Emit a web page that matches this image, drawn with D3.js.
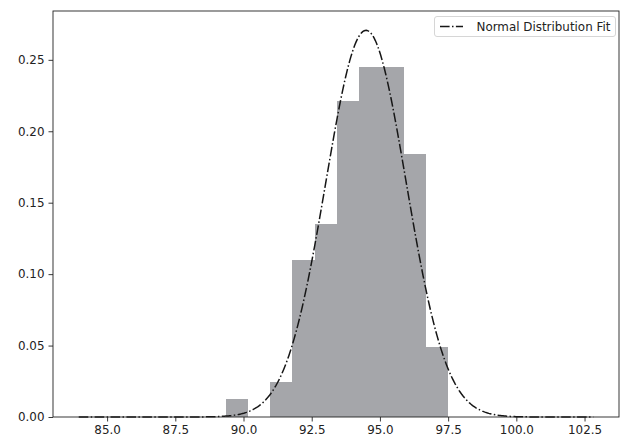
<!DOCTYPE html>
<html>
<head>
<meta charset="utf-8">
<script src="https://cdn.jsdelivr.net/npm/d3@7"></script>
<style>
  html, body { margin: 0; padding: 0; background: #fff; }
  svg { display: block; font-family: "DejaVu Sans", sans-serif; }
</style>
</head>
<body>
<svg id="chart" width="624" height="437"></svg>
<script>
// ---- data ----
const binEdges = [89.35, 90.165, 90.98, 91.795, 92.61, 93.425, 94.24, 95.055, 95.87, 96.685, 97.50];
const binDensity = [0.0123, 0, 0.0245, 0.110, 0.135, 0.221, 0.245, 0.245, 0.184, 0.049];
const fitMean = 94.49;
const fitStd = 1.474;
const curveRange = [83.96, 102.82];
const xTickValues = [85.0, 87.5, 90.0, 92.5, 95.0, 97.5, 100.0, 102.5];
const yTickValues = [0.00, 0.05, 0.10, 0.15, 0.20, 0.25];
const legendLabel = "Normal Distribution Fit";

// ---- layout ----
const svg = d3.select("#chart");
const mLeft = 53, mRight = 619, mTop = 11, mBottom = 417;

const span = curveRange[1] - curveRange[0];
const x = d3.scaleLinear()
  .domain([curveRange[0] - 0.05 * span, curveRange[1] + 0.05 * span])
  .range([mLeft, mRight]);

// fitted normal curve samples
const nPts = 400;
const curvePts = d3.range(nPts).map(i => {
  const xv = curveRange[0] + span * i / (nPts - 1);
  const z = (xv - fitMean) / fitStd;
  return [xv, Math.exp(-0.5 * z * z) / (fitStd * Math.sqrt(2 * Math.PI))];
});
const yMax = d3.max([d3.max(curvePts, d => d[1]), d3.max(binDensity)]);
const y = d3.scaleLinear().domain([0, yMax * 1.05]).range([mBottom, mTop]);

// bars
svg.append("g").attr("shape-rendering", "crispEdges").selectAll("rect")
  .data(binDensity.map((v, i) => ({ x0: binEdges[i], x1: binEdges[i + 1], v })))
  .join("rect")
  .attr("x", d => x(d.x0))
  .attr("width", d => x(d.x1) - x(d.x0))
  .attr("y", d => y(d.v))
  .attr("height", d => y(0) - y(d.v))
  .attr("fill", "#a5a6aa");

// curve
const dash = "9.6,2.4,1.5,2.4";
svg.append("path")
  .datum(curvePts)
  .attr("fill", "none")
  .attr("stroke", "#161616")
  .attr("stroke-width", 1.5)
  .attr("stroke-dasharray", dash)
  .attr("d", d3.line().x(d => x(d[0])).y(d => y(d[1])));

// axes
const fontSize = "11.9px";
const xAxis = svg.append("g")
  .attr("transform", `translate(0,${mBottom})`)
  .call(d3.axisBottom(x).tickValues(xTickValues).tickFormat(d3.format(".1f")).tickSize(4.5).tickPadding(4));
const yAxis = svg.append("g")
  .attr("transform", `translate(${mLeft},0)`)
  .call(d3.axisLeft(y).tickValues(yTickValues).tickFormat(d3.format(".2f")).tickSize(4.5).tickPadding(4));
[xAxis, yAxis].forEach(g => {
  g.select(".domain").remove();
  g.selectAll("line").attr("stroke", "#222").attr("stroke-width", 0.9);
  g.selectAll("text").attr("fill", "#222").style("font-size", fontSize).style("font-family", "DejaVu Sans");
});

// frame
svg.append("rect")
  .attr("x", mLeft).attr("y", mTop)
  .attr("width", mRight - mLeft).attr("height", mBottom - mTop)
  .attr("fill", "none").attr("stroke", "#222").attr("stroke-width", 0.9);

// legend
const lg = svg.append("g");
lg.append("rect")
  .attr("x", 434.5).attr("y", 16.5).attr("width", 181).attr("height", 20)
  .attr("rx", 2.5)
  .attr("fill", "#fff").attr("fill-opacity", 0.8)
  .attr("stroke", "#d6d6d6").attr("stroke-width", 1);
lg.append("line")
  .attr("x1", 440).attr("x2", 463).attr("y1", 26.5).attr("y2", 26.5)
  .attr("stroke", "#161616").attr("stroke-width", 1.5)
  .attr("stroke-dasharray", dash);
lg.append("text")
  .attr("x", 476.5).attr("y", 30.5)
  .attr("fill", "#222")
  .style("font-size", fontSize)
  .text(legendLabel);
</script>
</body>
</html>
